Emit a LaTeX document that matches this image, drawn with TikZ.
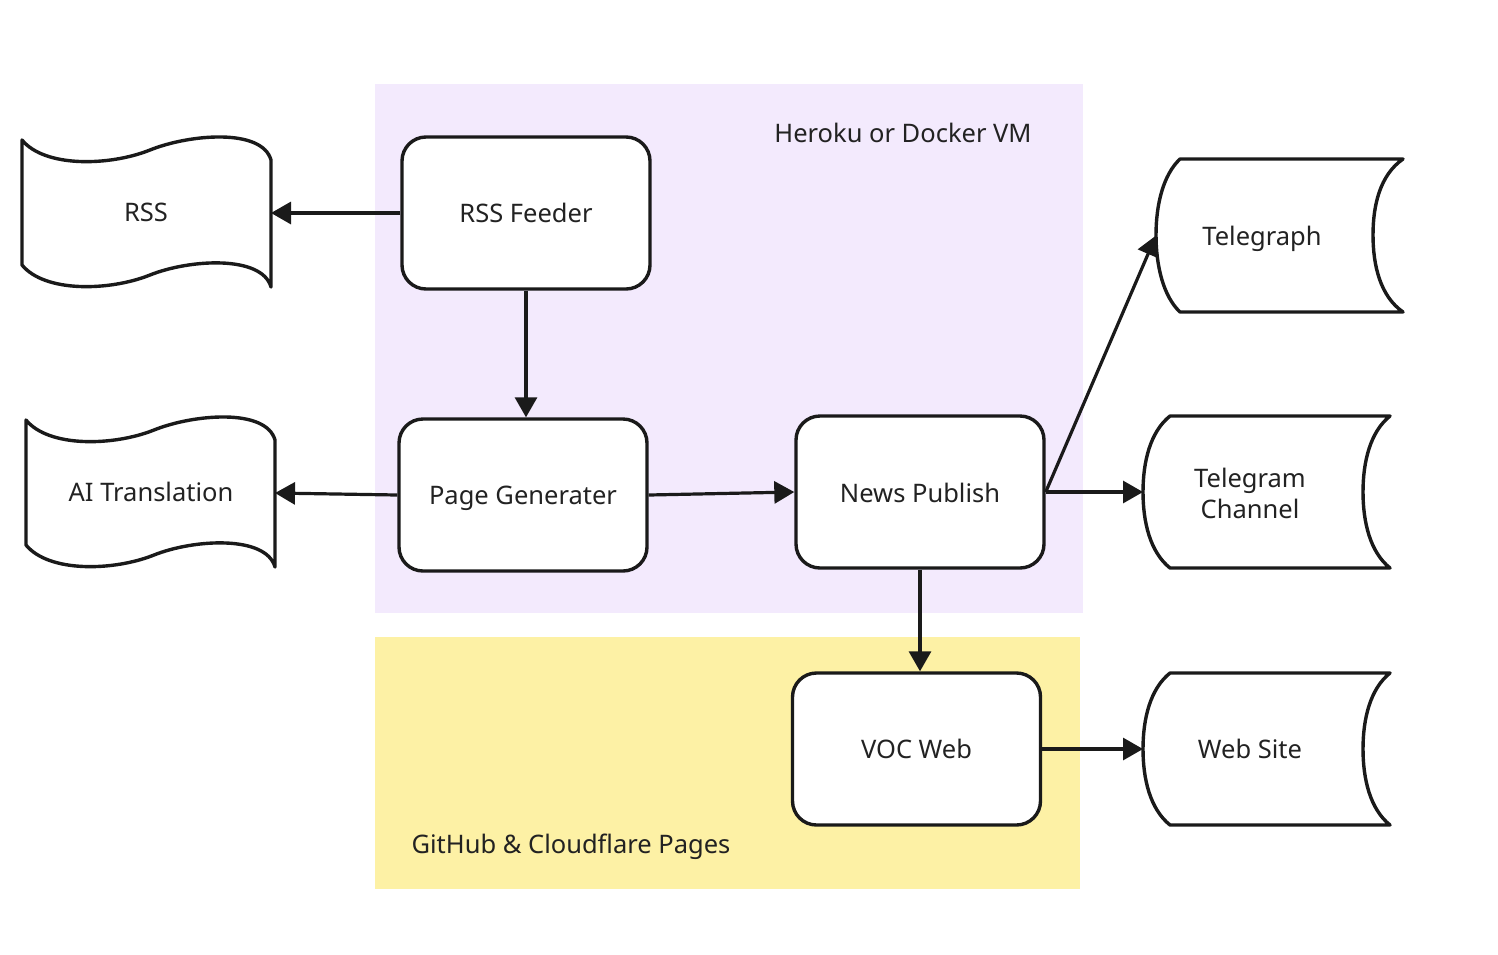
\documentclass[tikz,border=0pt]{standalone}
\usepackage{fontspec}
\setmainfont{Noto Sans}
\usetikzlibrary{arrows.meta}
\definecolor{purplebg}{HTML}{F3EAFD}
\definecolor{yellowbg}{HTML}{FDF1A5}
\definecolor{ink}{HTML}{1A1A1A}
\definecolor{txt}{HTML}{222222}
\tikzset{
  procbox/.style={draw=ink, line width=3.4pt, rounded corners=24pt, fill=white,
    minimum width=248pt, minimum height=152pt, inner sep=0pt, text=txt},
  shapeline/.style={draw=ink, line width=3.4pt, fill=white, line join=round},
  anchorbox/.style={inner sep=0pt, outer sep=0pt},
  lbl/.style={font=\fontsize{25.5}{31}\selectfont, text=txt, align=center, anchor=base},
  conn/.style={draw=ink, line width=3.2pt, -{Triangle[length=20pt,width=22pt]}},
}
\begin{document}
\begin{tikzpicture}[x=1pt,y=-1pt]
\useasboundingbox (0,0) rectangle (1498,954);
% regions
\fill[purplebg] (375,84) rectangle (1083,613);
\fill[yellowbg] (375,637) rectangle (1080,889);
\node[lbl] (herokulbl) at (903,142) {Heroku or Docker VM};
\node[lbl] (ghlbl) at (571,853) {GitHub \& Cloudflare Pages};

% process boxes
\node[procbox] (feeder) at (526,213) {};
\node[lbl] (feederlbl) at (526,222) {RSS Feeder};
\node[procbox] (pagegen) at (523,495) {};
\node[lbl] (pagegenlbl) at (523,504) {Page Generater};
\node[procbox] (publish) at (920,492) {};
\node[lbl] (publishlbl) at (920,502) {News Publish};
\node[procbox] (voc) at (916.5,749) {};
\node[lbl] (voclbl) at (916.5,758) {VOC Web};

% document shapes (wavy)
\foreach \dx/\dy in {0/0, 4/280} {
  \begin{scope}[shift={(\dx,\dy)}]
    \path[shapeline] (22,140) .. controls (45,168) and (110,166) .. (150,150)
      .. controls (190,134) and (262,128) .. (271,160)
      -- (271,287)
      .. controls (262,255) and (190,259) .. (150,275)
      .. controls (110,291) and (45,293) .. (22,265) -- cycle;
  \end{scope}
}
\node[anchorbox, minimum width=249pt, minimum height=154pt] (rss) at (146.5,213) {};
\node[lbl] (rsslbl) at (146,221) {RSS};
\node[anchorbox, minimum width=249pt, minimum height=154pt] (ai) at (150.5,493) {};
\node[lbl] (ailbl) at (151,501) {AI Translation};

% stored data shapes
\path[shapeline] (1180,159) -- (1403,159)
  .. controls (1380,175) and (1373,205) .. (1373,235)
  .. controls (1373,265) and (1380,296) .. (1403,312)
  -- (1180,312)
  .. controls (1163,296) and (1156,265) .. (1156,235)
  .. controls (1156,205) and (1163,175) .. (1180,159) -- cycle;
\node[anchorbox, minimum width=247pt, minimum height=153pt] (telegraph) at (1279.5,235.5) {};
\node[lbl] (telegraphlbl) at (1262,245) {Telegraph};

\path[shapeline] (1170,416) -- (1390,416)
  .. controls (1370,432) and (1363,462) .. (1363,492)
  .. controls (1363,522) and (1370,552) .. (1390,568)
  -- (1170,568)
  .. controls (1150,552) and (1143,522) .. (1143,492)
  .. controls (1143,462) and (1150,432) .. (1170,416) -- cycle;
\node[anchorbox, minimum width=247pt, minimum height=152pt] (channel) at (1266.5,492) {};
\node[lbl, anchor=center] (channellbl) at (1250,493) {Telegram\\Channel};

\path[shapeline] (1170,673) -- (1390,673)
  .. controls (1370,689) and (1363,719) .. (1363,749)
  .. controls (1363,779) and (1370,809) .. (1390,825)
  -- (1170,825)
  .. controls (1150,809) and (1143,779) .. (1143,749)
  .. controls (1143,719) and (1150,689) .. (1170,673) -- cycle;
\node[anchorbox, minimum width=247pt, minimum height=152pt] (website) at (1266.5,749) {};
\node[lbl] (websitelbl) at (1250,758) {Web Site};

% connectors
\draw[conn] (feeder.west) -- (rss.east);
\draw[conn] (feeder.south) -- (pagegen.north -| feeder.south);
\draw[conn] (pagegen.west) -- (ai.east);
\draw[conn] (pagegen.east) -- (publish.west);
\draw[conn] (publish.east) -- (channel.west);
\draw[conn] (publish.east) -- (telegraph.west);
\draw[conn] (publish.south) -- (voc.north -| publish.south);
\draw[conn] (voc.east) -- (website.west);
\end{tikzpicture}
\end{document}
